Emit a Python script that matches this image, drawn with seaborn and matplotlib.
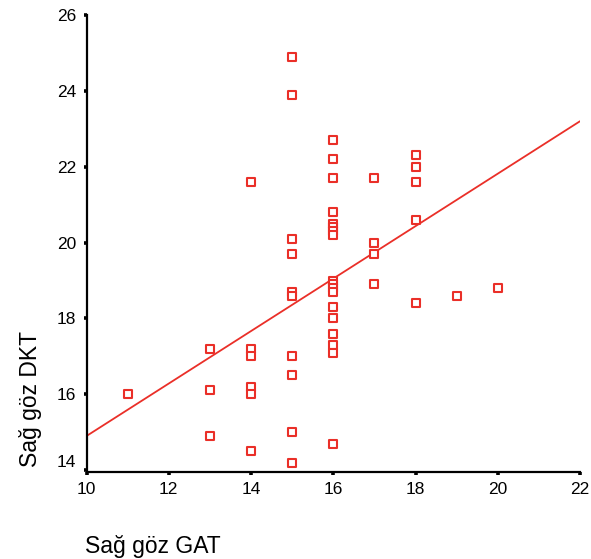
import matplotlib
matplotlib.use("Agg")
import matplotlib.pyplot as plt
import seaborn as sns
import pandas as pd

# Right eye: Goldmann applanation (GAT) vs dynamic contour tonometry (DKT), mmHg
gat = [11,
       13, 13, 13,
       14, 14, 14, 14, 14, 14,
       15, 15, 15, 15, 15, 15, 15, 15, 15, 15,
       16, 16, 16, 16, 16, 16, 16, 16, 16, 16, 16, 16, 16, 16, 16, 16, 16, 16,
       17, 17, 17, 17,
       18, 18, 18, 18, 18,
       19,
       20]
dkt = [16.0,
       17.2, 16.1, 14.9,
       21.6, 17.2, 17.0, 16.2, 16.0, 14.5,
       24.9, 23.9, 20.1, 19.7, 18.7, 18.6, 17.0, 16.5, 15.0, 14.2,
       22.7, 22.2, 21.7, 20.8, 20.5, 20.4, 20.3, 20.2, 19.0, 18.9, 18.8, 18.7,
       18.3, 18.0, 17.6, 17.3, 17.1, 14.7,
       21.7, 20.0, 19.7, 18.9,
       22.3, 22.0, 21.6, 20.6, 18.4,
       18.6,
       18.8]

# Fitted linear trend, evaluated at the ends of the GAT axis
fit_gat = [10, 22]
fit_dkt = [14.9, 23.2]

x_ticks = [10, 12, 14, 16, 18, 20, 22]
y_ticks = [14, 16, 18, 20, 22, 24, 26]

points = pd.DataFrame({"GAT": gat, "DKT": dkt})
fit = pd.DataFrame({"GAT": fit_gat, "DKT": fit_dkt})

sns.set_style("white")
plt.rcParams["font.family"] = ["Liberation Sans", "DejaVu Sans"]

red = "#ea2f28"

fig = plt.figure(figsize=(5.91, 5.59), dpi=100)
ax = fig.add_axes([0.1464, 0.1556, 0.835, 0.8175])

sns.lineplot(data=fit, x="GAT", y="DKT", ax=ax, color=red, linewidth=1.3)
sns.scatterplot(data=points, x="GAT", y="DKT", ax=ax, marker="s", s=30,
                facecolor="white", edgecolor=red, linewidth=1.5, zorder=3)

ax.set_xlim(10, 22)
ax.set_ylim(13.95, 26)
ax.set_xticks(x_ticks)
ax.set_yticks(y_ticks)
ax.set_xticklabels([str(v) for v in x_ticks])
ax.set_yticklabels([str(v) for v in y_ticks])

for side in ("top", "right"):
    ax.spines[side].set_visible(False)
for side in ("left", "bottom"):
    ax.spines[side].set_color("black")
    ax.spines[side].set_linewidth(1.6)

ax.tick_params(axis="both", which="major", bottom=True, left=True,
               direction="out", length=2.5, width=2.6, color="black",
               labelsize=12.5, labelcolor="black", pad=5)
ax.get_yticklabels()[0].set_verticalalignment("bottom")

ax.set_xlabel("")
ax.set_ylabel("")
fig.text(85 / 591, 1 - 553 / 559, "Sağ göz GAT", fontsize=16.5, ha="left",
         va="baseline", color="black")
fig.text(31 / 591, 1 - 399 / 559, "Sağ göz DKT", fontsize=16.5, rotation=90,
         ha="center", va="center", color="black")

fig.savefig("out.png", dpi=100)
